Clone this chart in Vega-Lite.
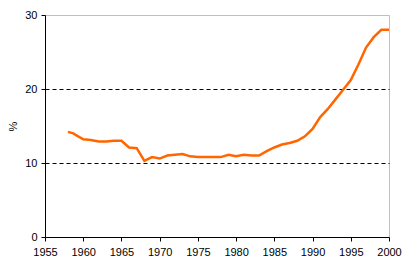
{
  "$schema": "https://vega.github.io/schema/vega-lite/v6.json",
  "width": 344,
  "height": 222,
  "autosize": {"type": "none"},
  "padding": {"left": 45, "top": 15, "right": 19, "bottom": 42},
  "background": "white",
  "config": {
    "view": {"stroke": "#c0c0c0", "strokeWidth": 1},
    "font": "Liberation Sans",
    "axis": {
      "labelFont": "Liberation Sans",
      "labelFontSize": 11,
      "labelColor": "black",
      "titleFont": "Liberation Sans",
      "titleFontWeight": "normal",
      "titleFontSize": 11,
      "titleColor": "black",
      "domainColor": "black",
      "tickColor": "black",
      "tickSize": 4
    }
  },
  "data": {
    "values": [
      {"year": 1958, "pct": 14.2},
      {"year": 1958.7, "pct": 14.0},
      {"year": 1959, "pct": 13.8},
      {"year": 1960, "pct": 13.2},
      {"year": 1961, "pct": 13.1},
      {"year": 1962, "pct": 12.9},
      {"year": 1963, "pct": 12.9},
      {"year": 1964, "pct": 13.0},
      {"year": 1965, "pct": 13.0},
      {"year": 1966, "pct": 12.1},
      {"year": 1967, "pct": 12.0},
      {"year": 1968, "pct": 10.3},
      {"year": 1969, "pct": 10.8},
      {"year": 1970, "pct": 10.6},
      {"year": 1971, "pct": 11.0},
      {"year": 1972, "pct": 11.1},
      {"year": 1973, "pct": 11.2},
      {"year": 1974, "pct": 10.9},
      {"year": 1975, "pct": 10.8},
      {"year": 1976, "pct": 10.8},
      {"year": 1977, "pct": 10.8},
      {"year": 1978, "pct": 10.8},
      {"year": 1979, "pct": 11.1},
      {"year": 1980, "pct": 10.9},
      {"year": 1981, "pct": 11.1},
      {"year": 1982, "pct": 11.0},
      {"year": 1983, "pct": 11.0},
      {"year": 1984, "pct": 11.6},
      {"year": 1985, "pct": 12.1},
      {"year": 1986, "pct": 12.5},
      {"year": 1987, "pct": 12.7},
      {"year": 1988, "pct": 13.0},
      {"year": 1989, "pct": 13.6},
      {"year": 1990, "pct": 14.6},
      {"year": 1991, "pct": 16.2},
      {"year": 1992, "pct": 17.3},
      {"year": 1993, "pct": 18.6},
      {"year": 1994, "pct": 19.9},
      {"year": 1995, "pct": 21.2},
      {"year": 1996, "pct": 23.3},
      {"year": 1997, "pct": 25.6},
      {"year": 1998, "pct": 27.0},
      {"year": 1999, "pct": 28.0},
      {"year": 2000, "pct": 28.0}
    ]
  },
  "mark": {"type": "line", "color": "#FF6600", "strokeWidth": 2.5, "clip": true},
  "encoding": {
    "x": {
      "field": "year",
      "type": "quantitative",
      "scale": {"domain": [1955, 2000], "nice": false, "zero": false},
      "axis": {
        "title": null,
        "values": [1955, 1960, 1965, 1970, 1975, 1980, 1985, 1990, 1995, 2000],
        "format": "d",
        "grid": false,
        "labelPadding": 5,
        "labelFlush": false
      }
    },
    "y": {
      "field": "pct",
      "type": "quantitative",
      "scale": {"domain": [0, 30], "nice": false},
      "axis": {
        "title": "%",
        "values": [0, 10, 20, 30],
        "grid": true,
        "gridColor": {"condition": {"test": "datum.value === 0 || datum.value === 30", "value": "transparent"}, "value": "black"},
        "gridDash": [4, 3],
        "gridWidth": 1,
        "labelPadding": 4,
        "titlePadding": 6,
        "labelFlush": false
      }
    }
  }
}
